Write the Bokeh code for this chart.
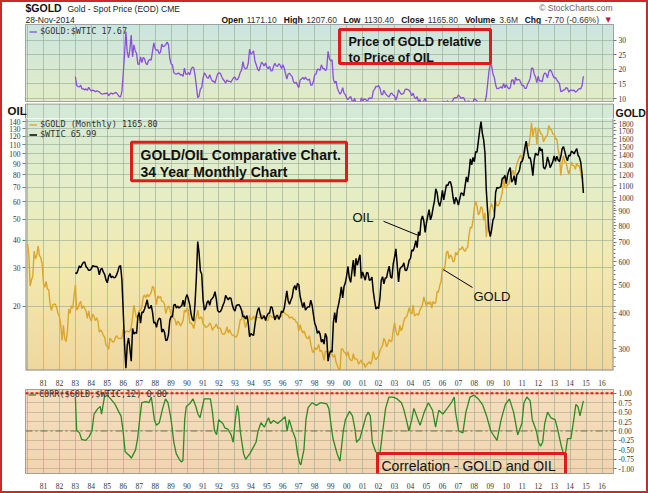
import numpy as np
from bokeh.plotting import figure
from bokeh.layouts import column
from bokeh.models import (Range1d, LogScale, LogAxis, FixedTicker, NumeralTickFormatter,
                          CustomJSTickFormatter, Legend, LegendItem, Label,
                          BoxAnnotation, Arrow, Span)
from bokeh.embed import file_html
from bokeh.resources import INLINE

# ---------------------------------------------------------------- data
GOLD_START = 1980          # first value = Jan 1980, monthly closes
gold_monthly = [
    690, 637, 494, 518, 535, 653, 614, 631, 680, 629, 619, 590,
    506, 489, 513, 482, 479, 426, 406, 425, 428, 427, 414, 397,
    387, 362, 320, 361, 325, 317, 342, 411, 397, 423, 414, 456,
    499, 408, 414, 429, 437, 412, 422, 414, 405, 382, 405, 382,
    373, 395, 388, 375, 384, 373, 342, 348, 343, 333, 329, 309,
    306, 298, 326, 322, 316, 317, 327, 333, 326, 325, 325, 327,
    350, 338, 344, 345, 343, 345, 357, 385, 424, 401, 383, 391,
    407, 406, 420, 452, 460, 449, 463, 453, 460, 469, 493, 487,
    458, 426, 457, 449, 455, 437, 437, 427, 397, 412, 422, 410,
    394, 387, 383, 377, 361, 373, 368, 359, 367, 375, 408, 401,
    415, 407, 368, 368, 363, 352, 372, 387, 408, 380, 384, 386,
    366, 362, 355, 357, 360, 368, 362, 347, 354, 357, 366, 353,
    354, 353, 341, 336, 337, 343, 357, 340, 349, 339, 334, 333,
    330, 329, 337, 355, 378, 378, 406, 372, 355, 370, 370, 391,
    378, 381, 389, 376, 387, 385, 384, 385, 394, 389, 383, 383,
    375, 376, 392, 389, 385, 387, 383, 382, 384, 382, 387, 387,
    405, 400, 396, 392, 391, 382, 385, 386, 379, 379, 371, 369,
    345, 363, 349, 340, 345, 334, 326, 325, 332, 311, 296, 290,
    304, 297, 301, 310, 293, 296, 288, 273, 294, 292, 294, 288,
    287, 287, 280, 286, 269, 262, 255, 254, 299, 299, 292, 290,
    283, 293, 277, 274, 272, 288, 276, 277, 274, 265, 270, 274,
    265, 267, 258, 264, 267, 270, 265, 273, 293, 279, 275, 279,
    282, 296, 302, 308, 326, 318, 304, 312, 323, 317, 319, 347,
    368, 347, 334, 336, 361, 346, 354, 375, 384, 386, 398, 416,
    400, 396, 424, 389, 393, 396, 391, 407, 416, 426, 453, 436,
    422, 435, 428, 436, 414, 437, 429, 433, 473, 471, 496, 513,
    569, 556, 582, 644, 653, 614, 633, 624, 599, 604, 647, 632,
    651, 664, 662, 677, 659, 651, 666, 672, 743, 790, 784, 834,
    923, 972, 934, 871, 886, 930, 918, 833, 885, 731, 815, 870,
    920, 952, 917, 883, 976, 935, 939, 956, 996, 1040, 1176, 1088,
    1079, 1110, 1116, 1179, 1208, 1244, 1169, 1246, 1307, 1347, 1384, 1406,
    1327, 1411, 1439, 1536, 1537, 1506, 1629, 1814, 1620, 1722, 1746, 1531,
    1744, 1711, 1663, 1651, 1558, 1599, 1622, 1649, 1776, 1719, 1715, 1658,
    1665, 1589, 1598, 1469, 1395, 1192, 1315, 1395, 1327, 1324, 1253, 1205,
    1251, 1327, 1292, 1289, 1251, 1315, 1286, 1286, 1217, 1164, 1165.8,
]

WTIC_START = 1983          # first value = Jan 1983, monthly closes
wtic_monthly = [
    28.5, 28.2, 29.3, 30.6, 30.0, 31.0, 31.7, 31.9, 30.4, 29.9, 29.2, 29.2,
    29.7, 30.6, 30.5, 30.4, 30.4, 29.9, 27.8, 29.5, 29.8, 28.7, 28.0, 26.4,
    25.6, 27.3, 28.2, 27.0, 27.4, 27.0, 27.1, 27.8, 29.0, 30.4, 30.7, 26.3,
    18.8, 13.3, 10.4, 13.3, 14.3, 12.8, 11.2, 15.8, 14.9, 15.2, 15.0, 17.9,
    18.7, 16.7, 18.8, 18.7, 19.4, 20.3, 21.4, 19.6, 19.6, 20.2, 18.8, 16.7,
    16.9, 16.0, 17.1, 17.6, 17.5, 15.2, 15.7, 15.2, 13.9, 14.0, 14.8, 17.2,
    18.0, 17.9, 20.2, 20.4, 19.6, 20.0, 19.6, 19.9, 20.1, 21.3, 19.9, 21.8,
    22.6, 21.5, 20.3, 18.4, 17.4, 17.1, 20.7, 27.2, 39.5, 35.2, 29.0, 28.0,
    21.5, 19.2, 19.6, 20.8, 21.2, 20.2, 21.4, 21.7, 22.2, 23.3, 21.5, 19.1,
    18.8, 18.9, 19.4, 20.2, 20.9, 22.4, 21.8, 21.4, 21.9, 21.7, 20.3, 19.4,
    19.0, 20.1, 20.3, 20.3, 19.9, 19.1, 17.9, 18.0, 17.5, 18.1, 16.7, 14.5,
    15.0, 14.8, 14.7, 16.4, 17.9, 19.1, 19.7, 18.4, 17.5, 17.7, 18.1, 17.2,
    18.0, 18.5, 18.6, 19.9, 19.7, 18.4, 17.3, 18.0, 18.2, 17.4, 18.0, 19.0,
    18.7, 19.5, 21.3, 23.5, 21.2, 20.4, 21.3, 22.0, 24.0, 24.9, 23.7, 25.4,
    25.1, 22.2, 20.9, 19.7, 20.8, 19.2, 19.6, 19.9, 19.8, 21.3, 20.2, 18.3,
    16.7, 16.1, 15.0, 15.4, 14.9, 13.7, 14.1, 13.4, 15.0, 14.4, 11.2, 12.1,
    12.5, 12.3, 16.8, 18.7, 16.8, 19.3, 20.5, 22.1, 24.5, 21.8, 24.6, 25.6,
    27.6, 30.4, 26.9, 25.7, 29.0, 32.5, 27.4, 33.1, 30.8, 32.7, 34.4, 26.8,
    28.7, 27.4, 26.3, 28.5, 28.4, 26.3, 26.4, 27.2, 23.4, 21.2, 19.4, 19.8,
    19.5, 21.7, 26.3, 27.3, 25.3, 26.9, 27.0, 28.9, 30.5, 27.2, 26.9, 31.2,
    33.5, 36.6, 31.0, 25.8, 29.6, 30.2, 30.5, 31.6, 29.2, 29.1, 30.4, 32.5,
    33.1, 36.2, 35.8, 37.4, 39.9, 37.1, 43.8, 42.1, 49.6, 51.8, 49.1, 43.5,
    48.2, 51.8, 55.4, 49.7, 52.0, 56.5, 60.6, 68.9, 66.2, 59.8, 57.3, 61.0,
    67.9, 61.4, 66.6, 71.9, 71.3, 73.9, 74.4, 70.3, 62.9, 58.7, 63.0, 61.1,
    58.1, 61.8, 65.9, 65.7, 64.0, 70.7, 78.2, 74.0, 81.7, 94.5, 88.7, 96.0,
    91.8, 101.8, 101.6, 113.5, 127.4, 140.0, 124.1, 115.5, 100.6, 67.8, 54.4, 44.6,
    41.7, 44.8, 49.7, 51.1, 66.3, 69.9, 69.5, 70.0, 70.6, 77.0, 77.3, 79.4,
    72.9, 79.7, 83.8, 86.2, 74.0, 75.6, 79.0, 71.9, 80.0, 81.4, 84.1, 91.4,
    92.2, 97.0, 106.7, 113.9, 102.7, 95.4, 95.7, 88.8, 79.2, 93.2, 100.4, 98.8,
    98.5, 107.1, 103.0, 104.9, 86.5, 85.0, 88.1, 96.5, 92.2, 86.2, 88.9, 91.8,
    97.5, 92.1, 97.2, 93.5, 92.0, 96.6, 105.0, 107.7, 102.3, 96.4, 92.7, 98.4,
    97.5, 102.6, 101.6, 99.7, 102.7, 105.4, 98.2, 96.0, 91.2, 80.5, 65.99,
]

# CORR($GOLD,$WTIC,12) (decimal year, value)
corr_time = [
    1983.00, 1983.08, 1983.26, 1983.39, 1983.65, 1983.86, 1984.04, 1984.17, 1984.38, 1984.56,
    1984.64, 1984.82, 1985.00, 1985.21, 1985.47, 1985.73, 1985.86, 1985.99, 1986.12, 1986.38,
    1986.51, 1986.77, 1986.90, 1987.03, 1987.16, 1987.42, 1987.61, 1987.76, 1987.95, 1988.08,
    1988.26, 1988.47, 1988.65, 1988.80, 1988.96, 1989.06, 1989.17, 1989.32, 1989.51, 1989.64,
    1989.74, 1989.85, 1989.95, 1990.16, 1990.37, 1990.55, 1990.68, 1990.81, 1991.07, 1991.46,
    1991.59, 1991.72, 1991.85, 1991.98, 1992.24, 1992.37, 1992.55, 1992.76, 1992.89, 1993.02,
    1993.15, 1993.23, 1993.33, 1993.54, 1993.67, 1993.93, 1994.06, 1994.32, 1994.45, 1994.63,
    1994.84, 1995.10, 1995.23, 1995.42, 1995.68, 1995.94, 1996.14, 1996.27, 1996.40, 1996.61,
    1996.79, 1996.92, 1997.06, 1997.13, 1997.32, 1997.45, 1997.58, 1997.84, 1998.10, 1998.36,
    1998.75, 1998.88, 1999.01, 1999.14, 1999.40, 1999.58, 1999.79, 1999.92, 2000.18, 2000.36,
    2000.52, 2000.62, 2000.83, 2000.96, 2001.22, 2001.35, 2001.48, 2001.61, 2001.82, 2002.08,
    2002.26, 2002.44, 2002.65, 2002.91, 2003.17, 2003.43, 2003.56, 2003.74, 2003.90, 2004.08,
    2004.21, 2004.47, 2004.60, 2004.86, 2005.12, 2005.38, 2005.57, 2005.77, 2006.03, 2006.30,
    2006.56, 2006.74, 2006.82, 2007.02, 2007.28, 2007.47, 2007.73, 2007.99, 2008.25, 2008.51,
    2008.77, 2009.03, 2009.42, 2009.68, 2009.94, 2010.20, 2010.46, 2010.72, 2010.98, 2011.11,
    2011.29, 2011.50, 2011.63, 2011.89, 2012.02, 2012.15, 2012.28, 2012.41, 2012.59, 2012.80,
    2013.06, 2013.19, 2013.45, 2013.58, 2013.71, 2013.84, 2014.05, 2014.23, 2014.36, 2014.49,
    2014.62, 2014.83,
]
corr_value = [
    0.90, 0.02, -0.05, -0.22, -0.25, -0.15, 0.00, 0.45, 0.58, 0.65,
    0.45, 0.90, 0.95, 0.85, 0.72, 0.50, 0.40, 0.00, -0.55, -0.65,
    -0.72, -0.50, -0.20, 0.30, 0.75, 0.78, 0.75, 0.90, 0.30, 0.15,
    0.22, 0.60, 0.85, 0.75, 0.40, 0.10, -0.30, -0.60, -0.75, -0.82,
    -0.78, 0.30, 0.65, 0.72, 0.85, 0.65, 0.45, 0.35, 0.85, 0.85,
    0.50, 0.00, -0.10, 0.30, 0.20, 0.08, 0.05, -0.10, -0.30, 0.30,
    0.68, 0.50, 0.00, -0.60, -0.75, -0.60, -0.50, -0.30, 0.00, 0.22,
    0.10, 0.35, 0.20, 0.28, 0.20, 0.30, 0.38, 0.00, 0.30, 0.00,
    -0.20, -0.60, -0.85, -0.90, -0.50, 0.30, 0.62, 0.75, 0.68, 0.75,
    0.72, 0.60, 0.20, -0.20, -0.60, -0.80, 0.00, 0.30, 0.52, 0.40,
    0.05, -0.30, -0.20, 0.00, 0.40, 0.50, 0.40, -0.30, -0.55, -0.62,
    0.00, 0.60, 0.90, 0.90, 0.85, 0.75, 0.60, 0.30, 0.00, 0.30,
    0.60, 0.30, 0.15, 0.50, 0.75, 0.55, 0.10, 0.55, 0.45, 0.60,
    0.75, 0.90, 0.50, 0.00, -0.05, 0.50, 0.90, 0.95, 0.85, 0.70,
    0.40, 0.00, -0.25, 0.30, 0.70, 0.85, 0.50, -0.10, 0.20, 0.75,
    0.90, 0.80, 0.30, 0.00, -0.30, -0.40, -0.30, 0.20, 0.50, 0.35,
    0.30, 0.10, -0.40, -0.60, -0.60, -0.20, -0.20, 0.30, 0.70, 0.65,
    0.40, 0.80,
]

year_ticks = list(range(1981, 2017))
grid_years = list(range(1980, 2017))
ratio_ticks = [10, 15, 20, 25, 30]
oil_ticks = [20, 30, 40, 50, 60, 70, 80, 90, 100, 110, 120, 130, 140]
gold_ticks = [300, 400, 500, 600, 700, 800, 900, 1000, 1100, 1200, 1300,
              1400, 1500, 1600, 1700, 1800]
corr_ticks = [-1.0, -0.75, -0.5, -0.25, 0.0, 0.25, 0.5, 0.75, 1.0]

title_symbol = "$GOLD"
title_text = "Gold - Spot Price (EOD) CME"
title_date = "28-Nov-2014"
quote_pairs = [("Open", "1171.10"), ("High", "1207.60"), ("Low", "1130.40"),
               ("Close", "1165.80"), ("Volume", "3.6M"), ("Chg", "-7.70 (-0.66%)")]
ratio_label = "$GOLD:$WTIC 17.67"
gold_label = "$GOLD (Monthly) 1165.80"
oil_label = "$WTIC 65.99"
corr_label = "CORR($GOLD,$WTIC,12) 0.80"

# ---------------------------------------------------------------- derived series
gold_x = [GOLD_START + i / 12 for i in range(len(gold_monthly))]
oil_x = [WTIC_START + i / 12 for i in range(len(wtic_monthly))]
off = (WTIC_START - GOLD_START) * 12
ratio = [g / o for g, o in zip(gold_monthly[off:], wtic_monthly)]

# ---------------------------------------------------------------- styling / geometry
SANS = "Liberation Sans"
NARROW = "Liberation Sans Narrow"
MONO = "DejaVu Sans Mono"
PURPLE = "#8a4fdb"
GOLDC = "#dba62c"
GREEN = "#2d8a22"
RED = "#e01b1b"
GRID = "#93a893"
EDGE = "#8c8c8c"
W = 644
FL, FR = 25, 613                   # frame left/right in page px
X0, X1 = 1979.875, 2016.72
PXU = (FR - FL) / (X1 - X0)        # px per year
R1 = (8.97, 35.5)                  # ratio panel (page 24..101)
ST = 103                           # strip top (page)
MT = 118                           # main frame top (page)
G2 = (252.0, 1877.3)               # gold log range (page 118..373)
O2 = (10.15, 144.7)                # oil log range
C3 = (-1.127, 1.10)                # corr range (page 389..477)


def xd(px):
    return X0 + (px - FL) / PXU


def y1(py):
    return R1[0] + (101 - py) * (R1[1] - R1[0]) / 77.0


def y2(py):
    return 10 ** (np.log10(G2[0]) + (373 - py) / (373.0 - MT) * np.log10(G2[1] / G2[0]))


def y3(py):
    return C3[0] + (477 - py) * (C3[1] - C3[0]) / 88.0


def grad_rows(stops, n):
    pos = [s[0] for s in stops]
    t = np.linspace(0, 1, n)
    return np.stack([np.interp(t, pos, [s[1][k] for s in stops]) for k in range(3)], axis=1)


def rgba_img(rows):            # rows listed top -> bottom
    n = len(rows)
    img = np.zeros((n, 6), dtype=np.uint32)
    v = img.view(dtype=np.uint8).reshape((n, 6, 4))
    r = rows[::-1]
    for k in range(3):
        v[:, :, k] = r[:, k][:, None].astype(np.uint8)
    v[:, :, 3] = 255
    return img


def hexc(rgb):
    return "#%02x%02x%02x" % tuple(int(round(c)) for c in rgb)


def no_align(p):
    try:
        p.frame_align = False
    except AttributeError:
        pass


xr = Range1d(X0, X1)


def base_fig(h, top, bottom, **kw):
    p = figure(width=W, height=h, x_range=xr, output_backend="svg",
               toolbar_location=None, min_border_left=23, min_border_right=33,
               min_border_top=top, min_border_bottom=bottom, **kw)
    p.border_fill_color = "white"
    p.outline_line_color = EDGE
    for g in p.grid:
        g.grid_line_color = GRID
        g.grid_line_alpha = 0.6
    p.xgrid.ticker = FixedTicker(ticks=grid_years)
    return p


def style_axis(ax):
    ax.axis_line_color = None
    ax.major_tick_line_color = "#777777"
    ax.major_tick_out = 3
    ax.major_tick_in = 0
    ax.minor_tick_line_color = None
    ax.major_label_text_font = NARROW
    ax.major_label_text_font_size = "7.5px"
    ax.major_label_text_color = "#333333"
    ax.major_label_standoff = 2


def style_xaxis(ax):
    ax.ticker = FixedTicker(ticks=year_ticks)
    ax.formatter = CustomJSTickFormatter(code="return String(Math.round(tick)).slice(2);")
    ax.axis_line_color = None
    ax.major_tick_line_color = None
    ax.minor_tick_line_color = None
    ax.major_label_text_font = NARROW
    ax.major_label_text_font_size = "7.5px"
    ax.major_label_text_color = "#333333"
    ax.major_label_standoff = 3


def legend(items, loc):
    return Legend(items=items, location=loc, background_fill_alpha=0,
                  border_line_alpha=0, label_text_font=MONO, label_text_font_size="8.5px",
                  label_text_color="#333333", glyph_width=8, glyph_height=9,
                  label_height=9, label_standoff=3, padding=0, spacing=-2, margin=0)


def lab(p, text, x, y, size, style="normal", color="#111111", font=SANS, align="left"):
    p.add_layout(Label(x=x, y=y, text=text, text_font=font, text_font_size=size,
                       text_font_style=style, text_color=color, text_align=align,
                       text_baseline="middle"))


# ---------------------------------------------------------------- header strip
p0 = figure(width=W, height=22, x_range=Range1d(2, 646), y_range=Range1d(24, 2),
            output_backend="svg", toolbar_location=None, x_axis_location=None,
            y_axis_location=None, min_border=0)
no_align(p0)
p0.outline_line_color = None
p0.grid.visible = False
p0.background_fill_color = "white"
p0.border_fill_color = "white"
lab(p0, title_symbol, 25, 7.5, "10.5px", "bold")
lab(p0, title_text, 67, 8, "8.5px", color="#222222")
lab(p0, title_date, 25, 19.5, "8.5px", color="#222222")
lab(p0, "\u00a9 StockCharts.com", 612, 7.5, "8.5px", color="#666666", align="right")

REG = {c: 0.556 for c in "0123456789"}
REG.update({".": 0.278, " ": 0.278, "-": 0.333, "(": 0.333, ")": 0.333, "%": 0.889, "M": 0.833})
BOLD = {"O": .778, "p": .611, "e": .556, "n": .611, "H": .722, "i": .278, "g": .611,
        "h": .611, "L": .611, "o": .611, "w": .778, "C": .722, "l": .278, "s": .556,
        "V": .667, "u": .611, "m": .889}


def tw(s, table, size):
    return sum(table.get(c, 0.556) for c in s) * size


FS = 8.5
gap_in, gap_out = 3.5, 6.5
total = 8
for k, v in quote_pairs:
    total += tw(k, BOLD, FS) + gap_in + tw(v, REG, FS) + gap_out
cx = 613 - total
for k, v in quote_pairs:
    lab(p0, k, cx, 19.5, "8.5px", "bold", "#111111")
    cx += tw(k, BOLD, FS) + gap_in
    lab(p0, v, cx, 19.5, "8.5px", "normal", "#333333")
    cx += tw(v, REG, FS) + gap_out
lab(p0, "\u25bc", cx, 19.5, "7px", color="#c0143c", font="DejaVu Sans")

# ---------------------------------------------------------------- top panel: ratio
p1 = base_fig(ST - 24, 0, ST - 101, y_range=Range1d(*R1), x_axis_location=None,
              y_axis_location="right")
p1.image_rgba(image=[rgba_img(grad_rows([(0, (203, 230, 224)), (1, (227, 236, 199))], 77))],
              x=X0, y=R1[0], dw=X1 - X0, dh=R1[1] - R1[0], level="image")
p1.ygrid.ticker = FixedTicker(ticks=ratio_ticks)
p1.yaxis.ticker = FixedTicker(ticks=ratio_ticks)
style_axis(p1.yaxis[0])
r_ratio = p1.line(oil_x, ratio, line_color=PURPLE, line_width=1.3)
p1.add_layout(legend([LegendItem(label=ratio_label, renderers=[r_ratio])], (4, 65)))

p1.add_layout(BoxAnnotation(left=xd(339), right=xd(490), top=y1(29), bottom=y1(63),
                            fill_color=None, fill_alpha=0, line_color=RED,
                            line_alpha=1, line_width=3))
lab(p1, "Price of GOLD relative", xd(348), y1(41), "12.5px", "bold")
lab(p1, "to Price of OIL", xd(348), y1(57), "12.5px", "bold")

# main panel background gradient (page rows ST..373)
main_rows = grad_rows([(0, (212, 234, 215)), (0.3, (229, 238, 200)),
                       (0.6, (243, 234, 177)), (1, (239, 216, 160))], 373 - ST)

# ---------------------------------------------------------------- strip with OIL / GOLD titles
SH = MT - ST
pS = figure(width=W, height=SH, x_range=Range1d(X0 - (FL - 2) / PXU, X1 + (646 - FR) / PXU),
            y_range=Range1d(0, SH), output_backend="svg", toolbar_location=None,
            x_axis_location=None, y_axis_location=None, min_border=0)
no_align(pS)
pS.outline_line_color = None
pS.background_fill_color = "white"
pS.border_fill_color = "white"
pS.add_layout(BoxAnnotation(left=X0, right=X1, top=SH + 5, bottom=-5,
                            fill_color=hexc(main_rows[SH // 2]), fill_alpha=1,
                            line_color=None, level="image"))
pS.ygrid.visible = False
pS.xgrid.ticker = FixedTicker(ticks=grid_years)
pS.xgrid.grid_line_color = GRID
pS.xgrid.grid_line_alpha = 0.6
pS.add_layout(BoxAnnotation(left=X0, right=X1, top=SH - 0.5, bottom=-6, fill_color=None,
                            fill_alpha=0, line_color=EDGE, line_alpha=1, line_width=1))
lab(pS, "OIL", X0 - 18 / PXU, SH - 7, "11.5px", "bold")
lab(pS, "GOLD", X1 + 2 / PXU, SH - 9.5, "10.5px", "bold")

# ---------------------------------------------------------------- main panel
p2 = base_fig(388 - MT, 0, 15, y_axis_type="log", y_range=Range1d(*G2),
              y_axis_location="right")
p2.outline_line_color = None
gax = p2.right[0]
p2.extra_y_ranges = {"oil": Range1d(*O2)}
p2.extra_y_scales = {"oil": LogScale()}
p2.image_rgba(image=[rgba_img(main_rows[SH:])],
              x=X0, y=G2[0], dw=X1 - X0, dh=G2[1] - G2[0], level="image")
p2.ygrid.ticker = FixedTicker(ticks=oil_ticks)
p2.ygrid.y_range_name = "oil"
oil_axis = LogAxis(y_range_name="oil", ticker=FixedTicker(ticks=oil_ticks),
                   formatter=NumeralTickFormatter(format="0"))
p2.add_layout(oil_axis, "left")
style_axis(oil_axis)
gax.ticker = FixedTicker(ticks=gold_ticks,
                         minor_ticks=[v for v in range(260, 1000, 20) if v % 100] +
                                     [v for v in range(1050, 1900, 50) if v % 100])
gax.formatter = NumeralTickFormatter(format="0")
style_axis(gax)
gax.minor_tick_line_color = "#777777"
gax.minor_tick_out = 2
gax.minor_tick_in = 0
style_xaxis(p2.xaxis[0])
p2.add_layout(BoxAnnotation(left=X0, right=X1, top=G2[1] * 3, bottom=G2[0], fill_color=None,
                            fill_alpha=0, line_color=EDGE, line_alpha=1, line_width=2))

r_gold = p2.line(gold_x, gold_monthly, line_color=GOLDC, line_width=1.4)
r_oil = p2.line(oil_x, wtic_monthly, line_color="black", line_width=1.5, y_range_name="oil")
p2.add_layout(legend([LegendItem(label=gold_label, renderers=[r_gold]),
                      LegendItem(label=oil_label, renderers=[r_oil])], (4, 373 - MT - 24)))

p2.add_layout(BoxAnnotation(left=xd(131), right=xd(346), top=y2(142), bottom=y2(181),
                            fill_color=None, fill_alpha=0, line_color=RED,
                            line_alpha=1, line_width=3))
lab(p2, "GOLD/OIL Comparative Chart.", xd(140), y2(155), "14px", "bold")
lab(p2, "34 Year Monthly Chart", xd(140), y2(172), "14px", "bold")

lab(p2, "OIL", xd(352), y2(218), "13px")
p2.add_layout(Arrow(end=None, x_start=xd(383), y_start=y2(222), x_end=xd(417),
                    y_end=y2(236), line_color="black", line_width=1))
lab(p2, "GOLD", xd(473), y2(298), "13px")
p2.add_layout(Arrow(end=None, x_start=xd(443), y_start=y2(271), x_end=xd(472),
                    y_end=y2(289), line_color="black", line_width=1))

# ---------------------------------------------------------------- correlation panel
p3 = base_fig(103, 1, 14, y_range=Range1d(*C3), y_axis_location="right")
p3.image_rgba(image=[rgba_img(grad_rows([(0, (245, 223, 190)), (1, (241, 213, 176))], 88))],
              x=X0, y=C3[0], dw=X1 - X0, dh=C3[1] - C3[0], level="image")
p3.ygrid.ticker = FixedTicker(ticks=corr_ticks)
p3.ygrid.grid_line_color = "#b3a58c"
p3.yaxis.ticker = FixedTicker(ticks=corr_ticks)
p3.yaxis.formatter = NumeralTickFormatter(format="0.00")
style_axis(p3.yaxis[0])
style_xaxis(p3.xaxis[0])
p3.add_layout(Span(location=0.0, dimension="width", line_color="#5f7a4a",
                   line_dash="7 3 2 3", line_width=1.2))
r_corr = p3.line(corr_time, corr_value, line_color=GREEN, line_width=1.3)
p3.add_layout(Span(location=1.0, dimension="width", line_color=RED,
                   line_dash="3 2", line_width=2))
p3.add_layout(legend([LegendItem(label=corr_label, renderers=[r_corr])], (3, 74)))
p3.add_layout(BoxAnnotation(left=xd(377), right=xd(565), top=y3(456), bottom=y3(478),
                            fill_color=None, fill_alpha=0, line_color=RED,
                            line_alpha=1, line_width=3))
lab(p3, "Correlation - GOLD and OIL", xd(381), y3(469), "14px")

layout = column(p0, p1, pS, p2, p3, spacing=0, styles={"border": "2px solid #cc2a2a"})
open("out.html", "w").write(file_html(layout, INLINE))
